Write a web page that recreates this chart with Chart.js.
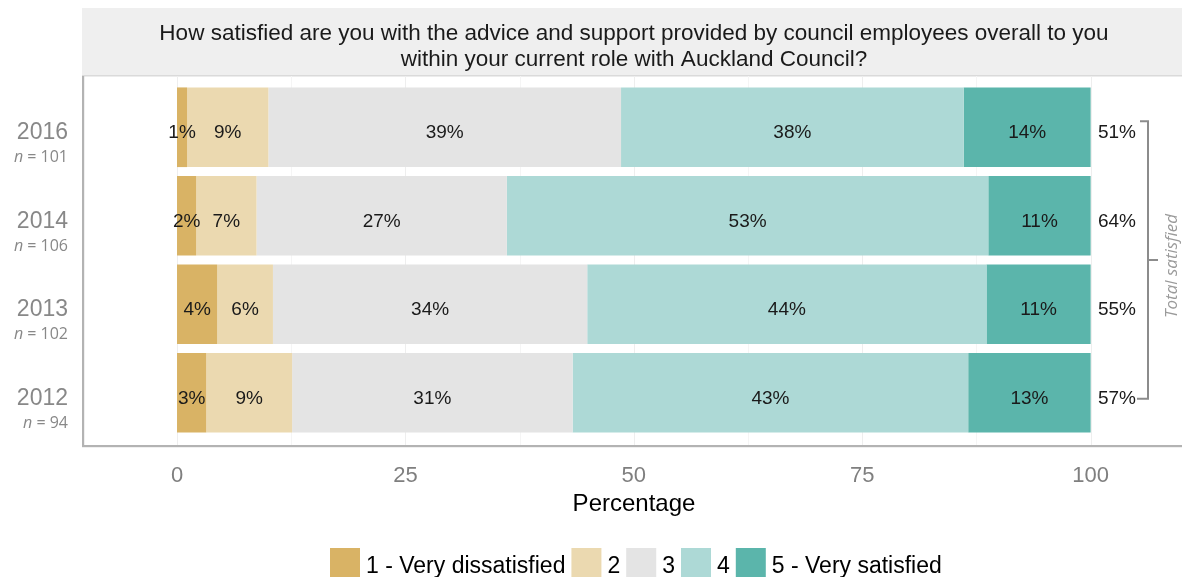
<!DOCTYPE html>
<html>
<head>
<meta charset="utf-8">
<script src="https://cdn.jsdelivr.net/npm/chart.js@4.4.0/dist/chart.umd.min.js"></script>
<style>
  html, body { margin: 0; padding: 0; background: #fff; }
  #wrap { width: 1182px; height: 577px; }
</style>
</head>
<body>
<div id="wrap"><canvas id="myChart" width="1182" height="577"></canvas></div>
<script>
// survey data, one value per year (top to bottom)
const years = ['2016', '2014', '2013', '2012'];
const sampleSizes = [101, 106, 102, 94];
const ratingLabels = ['1 - Very dissatisfied', '2', '3', '4', '5 - Very satisfied'];
const veryDissatisfied = [1.1, 2.1, 4.4, 3.2];
const dissatisfied = [8.9, 6.6, 6.1, 9.4];
const neutral = [38.6, 27.4, 34.4, 30.7];
const satisfied = [37.5, 52.7, 43.7, 43.3];
const verySatisfied = [13.9, 11.2, 11.4, 13.4];
const xTicks = [0, 25, 50, 75, 100];
const ratingColors = ['#d9b365', '#ebd9b0', '#e4e4e4', '#add9d6', '#5bb5ab'];
const titleLines = [
    'How satisfied are you with the advice and support provided by council employees overall to you',
    'within your current role with Auckland Council?'
];

const SANS = '"Liberation Sans", Arial, sans-serif';
const SOFT = '"Open Sans", "DejaVu Sans", sans-serif';

const series = [veryDissatisfied, dissatisfied, neutral, satisfied, verySatisfied];

const dataSource = {
    labels: years,
    datasets: series.map(function(values, i) {
        return {
            label: ratingLabels[i],
            data: values,
            backgroundColor: ratingColors[i],
            borderWidth: 0,
            barPercentage: 0.9,
            categoryPercentage: 1.0
        };
    })
};

const panelTop = 76, panelBottom = 446, panelLeft = 83;

const decorations = {
    id: 'decorations',
    beforeDatasetsDraw(chart) {
        const ctx = chart.ctx;
        const x = chart.scales.x;
        ctx.save();
        // title strip
        ctx.fillStyle = '#efefef';
        ctx.fillRect(82, 8, 1100, panelTop - 8);
        ctx.fillStyle = '#dadada';
        ctx.fillRect(82, panelTop - 1, 1100, 1.5);
        ctx.fillStyle = '#1a1a1a';
        ctx.font = '22.5px ' + SANS;
        ctx.textAlign = 'center';
        ctx.textBaseline = 'alphabetic';
        ctx.fillText(titleLines[0], 634, 40);
        ctx.fillText(titleLines[1], 634, 66);

        // faint vertical grid
        for (let v = 0; v <= 100; v += 12.5) {
            const px = Math.round(x.getPixelForValue(v)) + 0.5;
            ctx.strokeStyle = (v % 25 === 0) ? '#eeeeee' : '#f5f5f5';
            ctx.lineWidth = 1;
            ctx.beginPath();
            ctx.moveTo(px, panelTop);
            ctx.lineTo(px, panelBottom);
            ctx.stroke();
        }
        ctx.restore();
    },
    afterDatasetsDraw(chart) {
        const ctx = chart.ctx;
        const x = chart.scales.x;
        const y = chart.scales.y;
        ctx.save();

        // segment labels
        ctx.fillStyle = '#1a1a1a';
        ctx.font = '19px ' + SANS;
        ctx.textAlign = 'center';
        ctx.textBaseline = 'alphabetic';
        chart.data.datasets.forEach(function(ds, di) {
            const meta = chart.getDatasetMeta(di);
            meta.data.forEach(function(bar, i) {
                const cx = (bar.x + bar.base) / 2;
                ctx.fillText(Math.round(ds.data[i]) + '%', cx, bar.y + 11);
            });
        });

        // year labels and sample sizes
        years.forEach(function(year, i) {
            const cy = y.getPixelForValue(i);
            ctx.textAlign = 'right';
            ctx.fillStyle = '#888888';
            ctx.font = '23px ' + SANS;
            ctx.fillText(year, 68, cy + 12);
            ctx.font = '16px ' + SOFT;
            const rest = ' = ' + sampleSizes[i];
            const w = ctx.measureText(rest).width;
            ctx.fillText(rest, 68, cy + 35);
            ctx.font = 'italic 16px ' + SOFT;
            ctx.fillText('n', 68 - w, cy + 35);
        });

        // total satisfied (4 + 5)
        ctx.fillStyle = '#1a1a1a';
        ctx.font = '19px ' + SANS;
        ctx.textAlign = 'center';
        years.forEach(function(year, i) {
            const total = satisfied[i] + verySatisfied[i];
            ctx.fillText(Math.round(total) + '%', 1117, y.getPixelForValue(i) + 11);
        });

        // bracket
        const top = y.getPixelForValue(0) - 6;
        const bottom = y.getPixelForValue(years.length - 1) + 6;
        const mid = (top + bottom) / 2;
        ctx.strokeStyle = '#8c8c8c';
        ctx.lineWidth = 2;
        ctx.beginPath();
        ctx.moveTo(1140, top);
        ctx.lineTo(1148, top);
        ctx.lineTo(1148, bottom);
        ctx.lineTo(1137, bottom);
        ctx.moveTo(1148, mid);
        ctx.lineTo(1158, mid);
        ctx.stroke();

        ctx.save();
        ctx.translate(1177, mid + 6);
        ctx.rotate(-Math.PI / 2);
        ctx.fillStyle = '#9a9a9a';
        ctx.font = 'italic 17px ' + SOFT;
        ctx.textAlign = 'center';
        ctx.fillText('Total satisfied', 0, 0);
        ctx.restore();

        // axis lines
        ctx.fillStyle = '#b3b3b3';
        ctx.fillRect(panelLeft - 1, panelTop, 2.2, panelBottom - panelTop + 1);
        ctx.fillRect(panelLeft - 1, panelBottom - 1, 1182 - panelLeft + 1, 2.2);

        // x ticks and title
        ctx.fillStyle = '#7f7f7f';
        ctx.font = '22px ' + SANS;
        ctx.textAlign = 'center';
        xTicks.forEach(function(t) {
            ctx.fillText(String(t), x.getPixelForValue(t), 482);
        });
        ctx.fillStyle = '#000000';
        ctx.font = '24px ' + SANS;
        ctx.fillText('Percentage', 634, 511);

        // legend
        ctx.font = '23px ' + SANS;
        ctx.textAlign = 'left';
        let lx = 330;
        ratingLabels.forEach(function(label, i) {
            ctx.fillStyle = ratingColors[i];
            ctx.fillRect(lx, 548, 30, 30);
            lx += 36;
            ctx.fillStyle = '#000000';
            ctx.fillText(label, lx, 573);
            lx += ctx.measureText(label).width + 6;
        });

        ctx.restore();
    }
};

new Chart(document.getElementById('myChart'), {
    type: 'bar',
    data: dataSource,
    options: {
        indexAxis: 'y',
        responsive: false,
        animation: false,
        devicePixelRatio: 1,
        layout: { padding: { left: 82, right: 0, top: 83, bottom: 140 } },
        scales: {
            x: { stacked: true, min: -10.4, max: 110, display: false },
            y: { stacked: true, display: false }
        },
        plugins: {
            legend: { display: false },
            title: { display: false },
            tooltip: { enabled: false }
        }
    },
    plugins: [decorations]
});
</script>
</body>
</html>
